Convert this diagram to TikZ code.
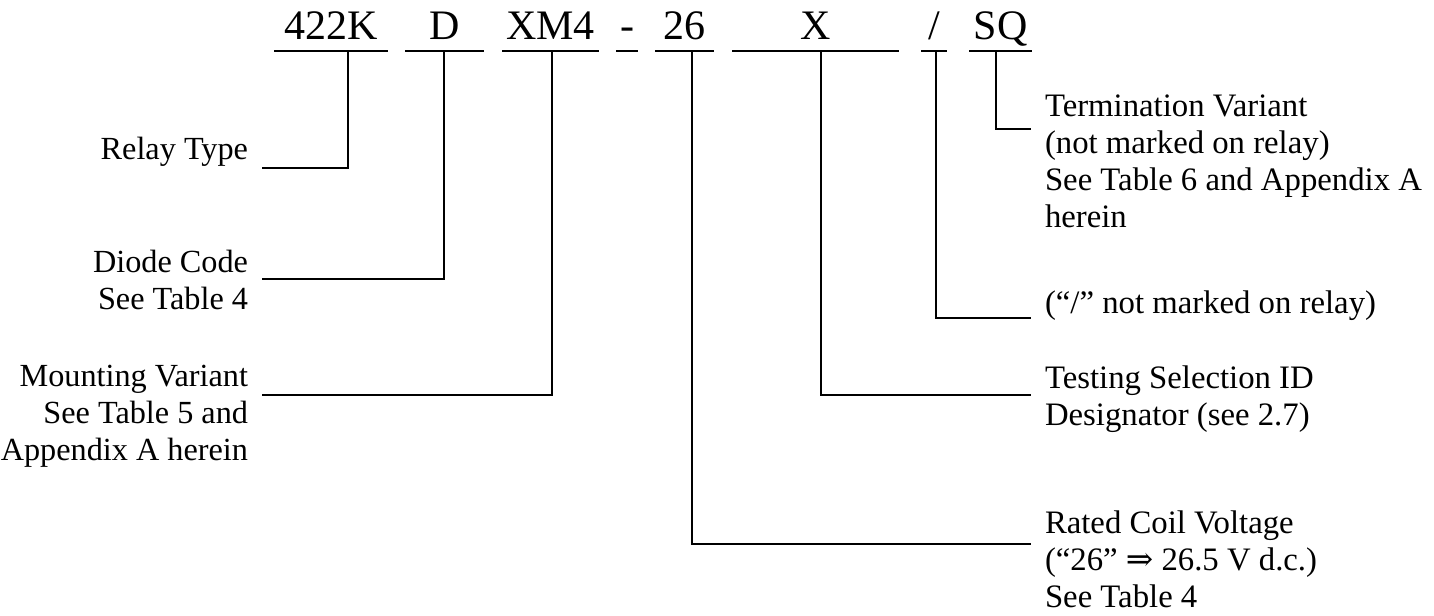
\documentclass[tikz,border=0pt]{standalone}
\usepackage{fontspec}
\setmainfont{Liberation Serif}
\newfontfamily\arrowfont{DejaVu Serif}
\begin{document}
\begin{tikzpicture}[x=0.4pt,y=-0.4pt,line width=0.8pt,
  code/.style={anchor=south,inner sep=0pt,text depth=4.4pt,font=\fontsize{16.8}{20}\selectfont},
  lblleft/.style={anchor=base east,inner sep=0pt,align=right,font=\fontsize{12.9}{14.7}\selectfont},
  lblright/.style={anchor=base west,inner sep=0pt,align=left,font=\fontsize{13.1}{14.7}\selectfont}]
  \useasboundingbox (0,0) rectangle (1434,615);
  % part number, each field underlined
  \node[code,minimum width=44.8pt] (rt) at (331,51) {422K};
  \node[code,minimum width=30.8pt] (dc) at (444.5,51) {D};
  \node[code,minimum width=38pt] (mv) at (550.5,51) {XM4};
  \node[code,minimum width=8pt] (hy) at (627,51) {-};
  \node[code,minimum width=22.8pt] (cv) at (684.5,51) {26};
  \node[code,minimum width=66pt] (ts) at (815.5,51) {X};
  \node[code,minimum width=9.6pt] (sl) at (934,51) {/};
  \node[code,minimum width=24.4pt] (tv) at (1000.5,51) {SQ};
  \foreach \n in {rt,dc,mv,hy,cv,ts,sl,tv}
    \draw (\n.south west) -- (\n.south east);
  % where the leaders leave the underlines
  \coordinate (rt-s) at (348,51);
  \coordinate (dc-s) at (444,51);
  \coordinate (mv-s) at (552,51);
  \coordinate (cv-s) at (692,51);
  \coordinate (ts-s) at (821,51);
  \coordinate (sl-s) at (936,51);
  \coordinate (tv-s) at (996,51);
  % labels (placed by the baseline of their last line)
  \node[lblleft] (relay) at (249,159) {Relay Type};
  \node[lblleft] (diode) at (249,309) {Diode Code\\See Table 4};
  \node[lblleft] (mount) at (249,460) {Mounting Variant\\See Table 5 and\\Appendix A herein};
  \node[lblright] (term) at (1044,227) {Termination Variant\\(not marked on relay)\\See Table 6 and Appendix A\\herein};
  \node[lblright] (slash) at (1044,313) {(“/” not marked on relay)};
  \node[lblright] (test) at (1044,425) {Testing Selection ID\\Designator (see 2.7)};
  \node[lblright] (coil) at (1044,607) {Rated Coil Voltage\\(“26” {\arrowfont ⇒} 26.5 V d.c.)\\See Table 4};
  % where the leaders end
  \coordinate (relay-c) at (262,168);
  \coordinate (diode-c) at (262,279);
  \coordinate (mount-c) at (262,395);
  \coordinate (term-c) at (1031,129);
  \coordinate (slash-c) at (1031,318);
  \coordinate (test-c) at (1031,395);
  \coordinate (coil-c) at (1031,544);
  \foreach \a/\b in {rt/relay,dc/diode,mv/mount,cv/coil,ts/test,sl/slash,tv/term}
    \draw (\a-s) |- (\b-c);
\end{tikzpicture}
\end{document}
